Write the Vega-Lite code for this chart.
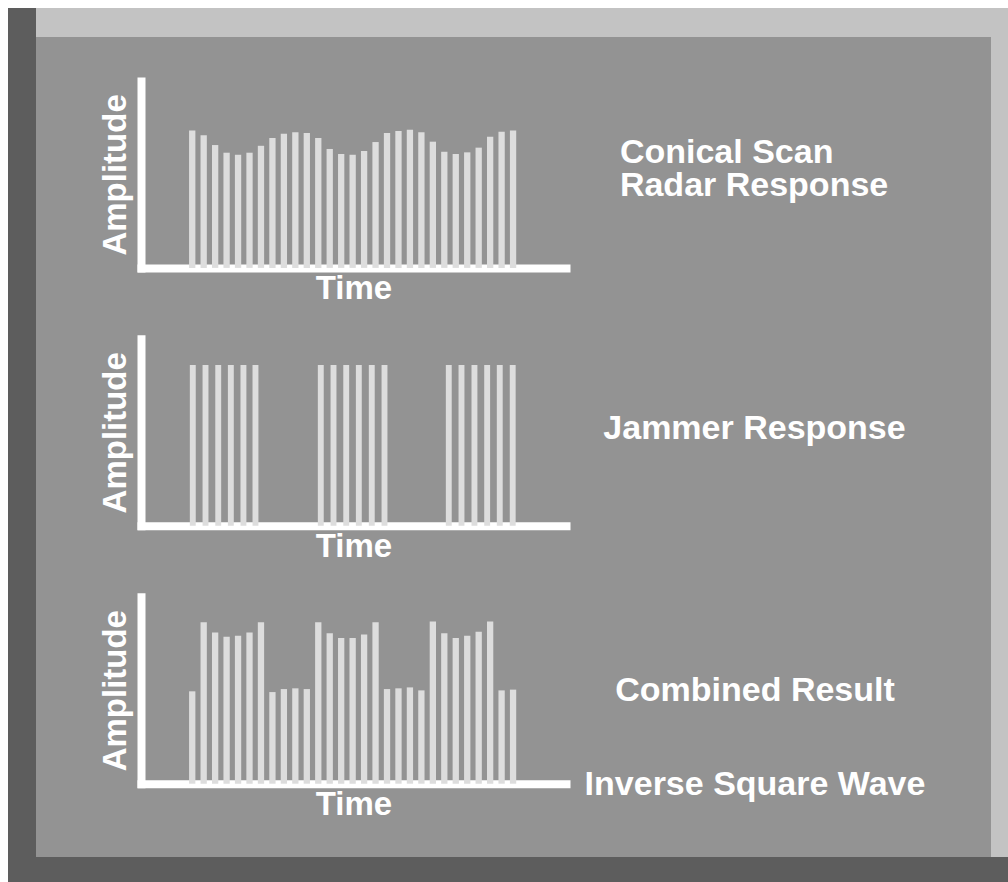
{
  "$schema": "https://vega.github.io/schema/vega-lite/v6.json",
  "background": "#939393",
  "padding": 0,
  "spacing": 0,
  "config": {
    "view": {"stroke": null},
    "concat": {"spacing": 0},
    "font": "Liberation Sans",
    "axis": {
      "ticks": false,
      "labels": false,
      "grid": false,
      "domainColor": "#ffffff",
      "domainWidth": 8,
      "domainCap": "square",
      "titleColor": "#ffffff",
      "titleFont": "Liberation Sans",
      "titleFontSize": 33,
      "titleFontWeight": "bold",
      "zindex": 1
    },
    "axisX": {"titlePadding": 4.3},
    "axisY": {"titlePadding": 8.5}
  },
  "datasets": {
    "conical": [
      {"time": 1, "amplitude": 73.5}, {"time": 2, "amplitude": 70.9}, {"time": 3, "amplitude": 65.7},
      {"time": 4, "amplitude": 61.6}, {"time": 5, "amplitude": 60.5}, {"time": 6, "amplitude": 61.6},
      {"time": 7, "amplitude": 65.3}, {"time": 8, "amplitude": 69.5}, {"time": 9, "amplitude": 71.8},
      {"time": 10, "amplitude": 72.5}, {"time": 11, "amplitude": 72.1}, {"time": 12, "amplitude": 69.5},
      {"time": 13, "amplitude": 63.6}, {"time": 14, "amplitude": 60.9}, {"time": 15, "amplitude": 60.5},
      {"time": 16, "amplitude": 62.5}, {"time": 17, "amplitude": 67.3}, {"time": 18, "amplitude": 72.1},
      {"time": 19, "amplitude": 73.2}, {"time": 20, "amplitude": 73.9}, {"time": 21, "amplitude": 72.5},
      {"time": 22, "amplitude": 67.5}, {"time": 23, "amplitude": 62.1}, {"time": 24, "amplitude": 60.9},
      {"time": 25, "amplitude": 61.8}, {"time": 26, "amplitude": 64.3}, {"time": 27, "amplitude": 70.2},
      {"time": 28, "amplitude": 72.8}, {"time": 29, "amplitude": 73.5}
    ],
    "jammer": [
      {"time": 1.05, "amplitude": 86}, {"time": 2.16, "amplitude": 86}, {"time": 3.27, "amplitude": 86},
      {"time": 4.37, "amplitude": 86}, {"time": 5.47, "amplitude": 86}, {"time": 6.52, "amplitude": 86},
      {"time": 12.22, "amplitude": 86}, {"time": 13.33, "amplitude": 86}, {"time": 14.44, "amplitude": 86},
      {"time": 15.54, "amplitude": 86}, {"time": 16.67, "amplitude": 86}, {"time": 17.78, "amplitude": 86},
      {"time": 23.39, "amplitude": 86}, {"time": 24.5, "amplitude": 86}, {"time": 25.63, "amplitude": 86},
      {"time": 26.74, "amplitude": 86}, {"time": 27.84, "amplitude": 86}, {"time": 28.97, "amplitude": 86}
    ],
    "combined": [
      {"time": 1, "amplitude": 49.4}, {"time": 2, "amplitude": 86.4}, {"time": 3, "amplitude": 80.9},
      {"time": 4, "amplitude": 78.6}, {"time": 5, "amplitude": 79.1}, {"time": 6, "amplitude": 80.9},
      {"time": 7, "amplitude": 86.4}, {"time": 8, "amplitude": 49.0}, {"time": 9, "amplitude": 50.6},
      {"time": 10, "amplitude": 51.0}, {"time": 11, "amplitude": 50.6}, {"time": 12, "amplitude": 86.4},
      {"time": 13, "amplitude": 80.5}, {"time": 14, "amplitude": 77.9}, {"time": 15, "amplitude": 77.9},
      {"time": 16, "amplitude": 79.8}, {"time": 17, "amplitude": 86.4}, {"time": 18, "amplitude": 50.6},
      {"time": 19, "amplitude": 51.0}, {"time": 20, "amplitude": 51.5}, {"time": 21, "amplitude": 49.9},
      {"time": 22, "amplitude": 86.8}, {"time": 23, "amplitude": 80.5}, {"time": 24, "amplitude": 77.9},
      {"time": 25, "amplitude": 79.1}, {"time": 26, "amplitude": 81.3}, {"time": 27, "amplitude": 86.8},
      {"time": 28, "amplitude": 49.9}, {"time": 29, "amplitude": 50.3}
    ],
    "label1": [{"label": "Conical Scan\nRadar Response"}],
    "label2": [{"label": "Jammer Response"}],
    "label3": [{"label": "Combined Result\nInverse Square Wave"}]
  },
  "vconcat": [
    {"width": 1008, "height": 8, "view": {"fill": "#ffffff"}, "data": {"values": []}, "mark": "rect", "encoding": {}},
    {
      "spacing": 0,
      "hconcat": [
        {"width": 8, "height": 874, "view": {"fill": "#ffffff"}, "data": {"values": []}, "mark": "rect", "encoding": {}},
        {"width": 28, "height": 874, "view": {"fill": "#5d5d5d"}, "data": {"values": []}, "mark": "rect", "encoding": {}},
        {
          "spacing": 0,
          "vconcat": [
            {"width": 955, "height": 29, "view": {"fill": "#c3c3c3"}, "data": {"values": []}, "mark": "rect", "encoding": {}},
            {
              "spacing": 0,
              "hconcat": [
                {"width": 63, "height": 820, "data": {"values": []}, "mark": "rect", "encoding": {}},
                {
                  "spacing": 32.9,
                  "vconcat": [
                    {"width": 10, "height": 10.6, "data": {"values": []}, "mark": "rect", "encoding": {}},
                    {
                      "spacing": 0,
                      "hconcat": [
                        {
                          "width": 425, "height": 187,
                          "data": {"name": "conical"},
                          "mark": {"type": "bar", "size": 6.3, "color": "#dddddd"},
                          "encoding": {
                            "x": {"field": "time", "type": "quantitative", "title": "Time", "scale": {"domain": [-3.47, 33.62], "nice": false, "zero": false, "padding": 0}},
                            "y": {"field": "amplitude", "type": "quantitative", "title": "Amplitude", "scale": {"domain": [0, 100], "nice": false}}
                          }
                        },
                        {
                          "width": 107.8, "height": 164,
                          "data": {"name": "label1"},
                          "mark": {"type": "text", "align": "left", "baseline": "alphabetic", "lineBreak": "\n", "lineHeight": 33.6, "font": "Liberation Sans", "fontSize": 34, "fontWeight": "bold", "color": "#ffffff"},
                          "encoding": {"text": {"field": "label", "type": "nominal"}}
                        }
                      ]
                    },
                    {
                      "spacing": 0,
                      "hconcat": [
                        {
                          "width": 425, "height": 187,
                          "data": {"name": "jammer"},
                          "mark": {"type": "bar", "size": 5.9, "color": "#dddddd"},
                          "encoding": {
                            "x": {"field": "time", "type": "quantitative", "title": "Time", "scale": {"domain": [-3.47, 33.62], "nice": false, "zero": false, "padding": 0}},
                            "y": {"field": "amplitude", "type": "quantitative", "title": "Amplitude", "scale": {"domain": [0, 100], "nice": false}}
                          }
                        },
                        {
                          "width": 377, "height": 200.2,
                          "data": {"name": "label2"},
                          "mark": {"type": "text", "align": "center", "baseline": "alphabetic", "font": "Liberation Sans", "fontSize": 34, "fontWeight": "bold", "color": "#ffffff"},
                          "encoding": {"text": {"field": "label", "type": "nominal"}}
                        }
                      ]
                    },
                    {
                      "spacing": 0,
                      "hconcat": [
                        {
                          "width": 425, "height": 187,
                          "data": {"name": "combined"},
                          "mark": {"type": "bar", "size": 6.3, "color": "#dddddd"},
                          "encoding": {
                            "x": {"field": "time", "type": "quantitative", "title": "Time", "scale": {"domain": [-3.47, 33.62], "nice": false, "zero": false, "padding": 0}},
                            "y": {"field": "amplitude", "type": "quantitative", "title": "Amplitude", "scale": {"domain": [0, 100], "nice": false}}
                          }
                        },
                        {
                          "width": 378, "height": 207.6,
                          "data": {"name": "label3"},
                          "mark": {"type": "text", "align": "center", "baseline": "alphabetic", "lineBreak": "\n", "lineHeight": 94.3, "font": "Liberation Sans", "fontSize": 34, "fontWeight": "bold", "color": "#ffffff"},
                          "encoding": {"text": {"field": "label", "type": "nominal"}}
                        }
                      ]
                    }
                  ]
                }
              ]
            },
            {"width": 955, "height": 25, "view": {"fill": "#5d5d5d"}, "data": {"values": []}, "mark": "rect", "encoding": {}}
          ]
        },
        {
          "spacing": 0,
          "vconcat": [
            {"width": 17, "height": 849, "view": {"fill": "#c3c3c3"}, "data": {"values": []}, "mark": "rect", "encoding": {}},
            {"width": 17, "height": 25, "view": {"fill": "#5d5d5d"}, "data": {"values": []}, "mark": "rect", "encoding": {}}
          ]
        }
      ]
    }
  ]
}
